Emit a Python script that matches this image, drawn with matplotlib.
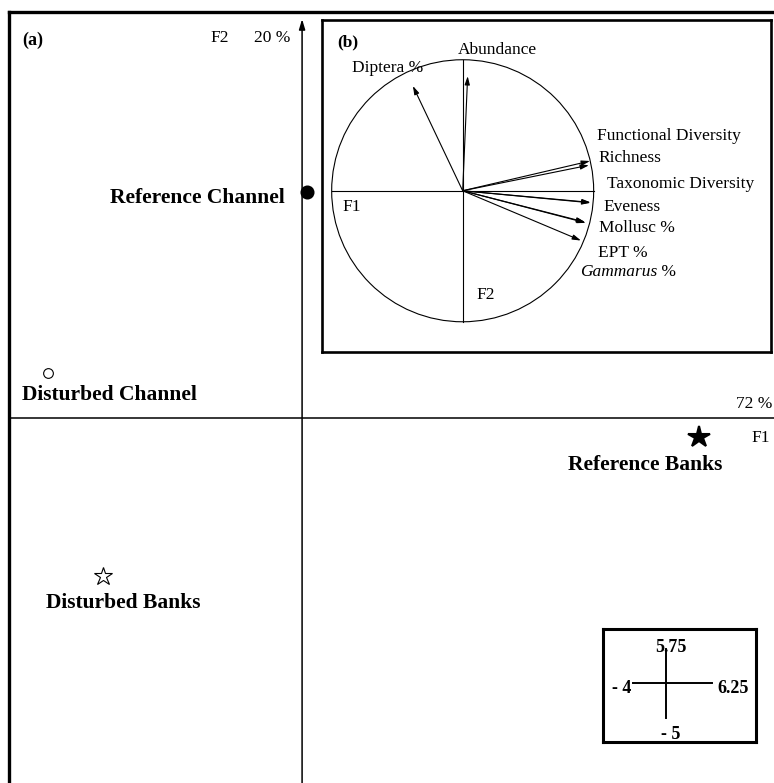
import matplotlib.pyplot as plt

plt.rcParams['font.family'] = ['Liberation Serif', 'DejaVu Serif']

# site scores on the first two PCA axes
groups = ['Reference Channel', 'Disturbed Channel', 'Reference Banks', 'Disturbed Banks']
f1_scores = [0.07, -3.47, 5.42, -2.72]
f2_scores = [3.2, 0.64, -0.27, -2.24]

# variable loadings (correlation circle)
variables = ['Abundance', 'Diptera %', 'Functional Diversity', 'Richness',
             'Taxonomic Diversity', 'Eveness', 'Mollusc %', 'EPT %', 'Gammarus %']
load_f1 = [0.038, -0.38, 0.972, 0.964, 0.977, 0.975, 0.934, 0.94, 0.903]
load_f2 = [0.875, 0.80, 0.227, 0.195, -0.089, -0.092, -0.239, -0.245, -0.38]

# axis ranges and explained inertia
f1_range = [-4, 6.25]
f2_range = [-5, 5.75]
inertia = [72, 20]

fig = plt.figure(figsize=(7.74, 7.83), dpi=100)

# ---- panel (a): factorial map
ax = fig.add_axes([0, 0, 1, 1])
ax.set_xlim(-4.123, 6.441)
ax.set_ylim(-5.17, 5.92)
ax.axis('off')

# frame (only left and top visible, the rest is cropped)
ax.plot([f1_range[0], f1_range[0]], [-5.17, f2_range[1]], color='black', lw=2.4,
        solid_capstyle='projecting')
ax.plot([f1_range[0], 6.441], [f2_range[1], f2_range[1]], color='black', lw=2.4,
        solid_capstyle='projecting')

# axes through origin
ax.plot([f1_range[0], 6.441], [0, 0], color='black', lw=1.1)
ax.annotate('', xy=(0, 5.65), xytext=(0, -5.17),
            arrowprops=dict(arrowstyle='-|>,head_length=0.6,head_width=0.18',
                            lw=1.1, color='black', shrinkA=0, shrinkB=0))

markers = ['o', 'o', '*', '*']
filled = [True, False, True, False]
msizes = [8.6, 7.0, 16, 13.5]
for x, y, m, f, s in zip(f1_scores, f2_scores, markers, filled, msizes):
    ax.plot(x, y, marker=m, ms=s, mfc='black' if f else 'white',
            mec='black', mew=1.5 if f else 0.8, linestyle='none')

label_pos = [(-0.232, 3.116, 'right'), (-3.82, 0.326, 'left'),
             (3.63, -0.666, 'left'), (-3.49, -2.62, 'left')]
for name, (lx, ly, ha) in zip(groups, label_pos):
    ax.text(lx, ly, name, ha=ha, va='center', fontsize=15.5, fontweight='bold')

ax.text(-3.82, 5.354, '(a)', ha='left', va='center', fontsize=13, fontweight='bold')
ax.text(-1.256, 5.38, 'F2', ha='left', va='center', fontsize=12.5)
ax.text(-0.655, 5.38, f'{inertia[1]} %', ha='left', va='center', fontsize=12.5)
ax.text(6.415, 0.198, f'{inertia[0]} %', ha='right', va='center', fontsize=12.5)
ax.text(6.14, -0.283, 'F1', ha='left', va='center', fontsize=12.5)

# ---- panel (b): correlation circle
axb = fig.add_axes([0.416, 0.5504, 0.580, 0.424])
axb.set_xlim(-1.074, 2.353)
axb.set_ylim(-1.231, 1.303)
axb.set_xticks([])
axb.set_yticks([])
for sp in axb.spines.values():
    sp.set_linewidth(1.9)
circle = plt.Circle((0, 0), 1.0, fill=False, color='black', lw=0.8)
axb.add_patch(circle)
axb.plot([-1, 1], [0, 0], color='black', lw=0.8)
axb.plot([0, 0], [-1, 1], color='black', lw=0.8)

for x, y in zip(load_f1, load_f2):
    axb.annotate('', xy=(x, y), xytext=(0, 0),
                 arrowprops=dict(arrowstyle='-|>,head_length=0.5,head_width=0.15',
                                 lw=0.8, color='black', shrinkA=0, shrinkB=0))

var_pos = [(-0.036, 1.074), (-0.845, 0.937), (1.025, 0.418), (1.033, 0.25),
           (1.102, 0.051), (1.071, -0.124), (1.04, -0.285), (1.033, -0.476),
           (0.895, -0.62)]
for name, (lx, ly) in zip(variables, var_pos):
    if name == 'Gammarus %':
        t = axb.text(lx, ly, 'Gammarus', ha='left', va='center', fontsize=12.5,
                     style='italic',
                     bbox=dict(facecolor='white', edgecolor='none', pad=0.5))
        axb.annotate(' %', xy=(1, 0), xycoords=t, ha='left', va='bottom',
                     fontsize=12.5)
    else:
        axb.text(lx, ly, name, ha='left', va='center', fontsize=12.5)

axb.text(-0.959, 1.135, '(b)', ha='left', va='center', fontsize=12.5, fontweight='bold')
axb.text(-0.914, -0.124, 'F1', ha='left', va='center', fontsize=12.5)
axb.text(0.107, -0.796, 'F2', ha='left', va='center', fontsize=12.5)

# ---- scale box
axs = fig.add_axes([0.779, 0.0524, 0.1977, 0.1443])
axs.set_xlim(0, 1)
axs.set_ylim(0, 1)
axs.set_xticks([])
axs.set_yticks([])
for sp in axs.spines.values():
    sp.set_linewidth(2.2)
axs.plot([0.196, 0.712], [0.522, 0.522], color='black', lw=1.4)
axs.plot([0.412, 0.412], [0.212, 0.823], color='black', lw=1.4)
axs.text(0.444, 0.832, f'{f2_range[1]}', ha='center', va='center', fontsize=13, fontweight='bold')
axs.text(0.183, 0.469, f'- {abs(f1_range[0])}', ha='right', va='center', fontsize=13, fontweight='bold')
axs.text(0.745, 0.469, f'{f1_range[1]}', ha='left', va='center', fontsize=13, fontweight='bold')
axs.text(0.444, 0.062, f'- {abs(f2_range[0])}', ha='center', va='center', fontsize=13, fontweight='bold')

plt.savefig('out.png', dpi=100)
